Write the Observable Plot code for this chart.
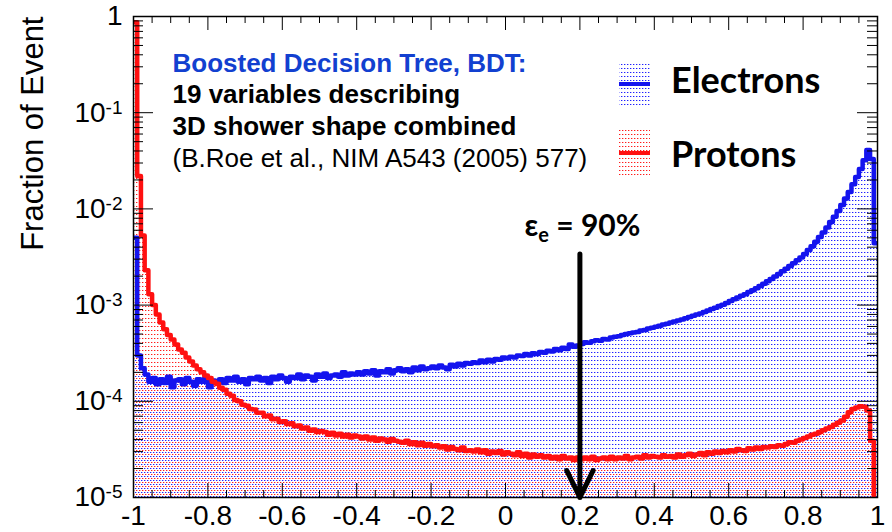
<!DOCTYPE html>
<html><head><meta charset="utf-8">
<script src="https://cdn.jsdelivr.net/npm/d3@7"></script>
<script src="https://cdn.jsdelivr.net/npm/@observablehq/plot@0.6"></script>
<style>
html,body{margin:0;padding:0;background:#fff;}
#chart{width:892px;height:532px;}
</style></head><body><div id="chart"></div>
<script>
// ---- data ----
const binStart = -1, binWidth = 0.01;   // 200 bins over [-1, 1]
const electrons = [
 5.0e-3,3.0e-4,2.2e-4,1.9e-4,1.6e-4,1.75e-4,1.5e-4,1.7e-4,1.55e-4,1.8e-4,
 1.4e-4,1.65e-4,1.7e-4,1.5e-4,1.75e-4,1.6e-4,1.45e-4,1.7e-4,1.6e-4,1.75e-4,
 1.4e-4,1.65e-4,1.6e-4,1.7e-4,1.55e-4,1.75e-4,1.65e-4,1.8e-4,1.6e-4,1.7e-4,
 1.5e-4,1.75e-4,1.7e-4,1.8e-4,1.65e-4,1.75e-4,1.55e-4,1.8e-4,1.7e-4,1.85e-4,
 1.75e-4,1.6e-4,1.8e-4,1.75e-4,1.9e-4,1.7e-4,1.85e-4,1.8e-4,1.65e-4,1.9e-4,
 1.8e-4,1.95e-4,1.75e-4,1.85e-4,1.9e-4,1.8e-4,2.0e-4,1.85e-4,1.95e-4,1.9e-4,
 2.0e-4,1.9e-4,2.05e-4,1.95e-4,2.1e-4,1.85e-4,2.05e-4,2.0e-4,2.15e-4,1.95e-4,
 2.1e-4,2.2e-4,2.05e-4,2.15e-4,2.0e-4,2.25e-4,2.1e-4,2.3e-4,2.15e-4,2.2e-4,
 2.3e-4,2.2e-4,2.35e-4,2.25e-4,2.15e-4,2.4e-4,2.3e-4,2.45e-4,2.35e-4,2.5e-4,
 2.45e-4,2.55e-4,2.5e-4,2.65e-4,2.55e-4,2.7e-4,2.6e-4,2.75e-4,2.7e-4,2.85e-4,
 2.8e-4,2.9e-4,2.85e-4,3.0e-4,2.95e-4,3.1e-4,3.0e-4,3.15e-4,3.1e-4,3.25e-4,
 3.2e-4,3.35e-4,3.3e-4,3.5e-4,3.4e-4,3.6e-4,3.5e-4,3.9e-4,3.7e-4,3.8e-4,
 3.95e-4,4.1e-4,4.05e-4,4.2e-4,4.3e-4,4.25e-4,4.45e-4,4.4e-4,4.6e-4,4.7e-4,
 4.75e-4,4.9e-4,5.0e-4,5.1e-4,5.2e-4,5.25e-4,5.45e-4,5.5e-4,5.7e-4,5.8e-4,
 5.95e-4,6.1e-4,6.3e-4,6.4e-4,6.6e-4,6.75e-4,6.9e-4,7.1e-4,7.3e-4,7.5e-4,
 7.75e-4,8.0e-4,8.2e-4,8.5e-4,8.8e-4,9.1e-4,9.4e-4,9.8e-4,1.01e-3,1.05e-3,
 1.1e-3,1.15e-3,1.2e-3,1.25e-3,1.3e-3,1.37e-3,1.43e-3,1.5e-3,1.58e-3,1.67e-3,
 1.77e-3,1.87e-3,1.98e-3,2.1e-3,2.25e-3,2.38e-3,2.55e-3,2.72e-3,2.92e-3,3.12e-3,
 3.4e-3,3.75e-3,4.1e-3,4.55e-3,5.1e-3,5.7e-3,6.4e-3,7.3e-3,8.3e-3,9.5e-3,
 1.1e-2,1.28e-2,1.5e-2,1.8e-2,2.15e-2,2.6e-2,3.2e-2,4.1e-2,3.3e-2,4.4e-3
];
const protons = [
 0.87,2.2e-2,5.3e-3,2.3e-3,1.3e-3,1.0e-3,8.0e-4,6.6e-4,5.6e-4,4.9e-4,
 4.4e-4,3.9e-4,3.45e-4,3.2e-4,2.85e-4,2.6e-4,2.35e-4,2.15e-4,2.0e-4,1.85e-4,
 1.75e-4,1.6e-4,1.52e-4,1.38e-4,1.32e-4,1.2e-4,1.14e-4,1.03e-4,1.0e-4,9.2e-5,
 9.0e-5,8.3e-5,8.2e-5,7.6e-5,7.6e-5,7.0e-5,7.1e-5,6.5e-5,6.6e-5,6.1e-5,
 6.2e-5,5.8e-5,5.9e-5,5.5e-5,5.6e-5,5.2e-5,5.35e-5,4.95e-5,5.1e-5,4.8e-5,
 4.9e-5,4.8e-5,4.5e-5,4.7e-5,4.4e-5,4.6e-5,4.3e-5,4.5e-5,4.2e-5,4.4e-5,
 4.3e-5,4.1e-5,4.3e-5,4.0e-5,4.2e-5,3.9e-5,4.1e-5,4.0e-5,3.8e-5,4.05e-5,
 3.9e-5,3.8e-5,3.7e-5,3.9e-5,3.6e-5,3.75e-5,3.5e-5,3.7e-5,3.45e-5,3.6e-5,
 3.4e-5,3.5e-5,3.3e-5,3.4e-5,3.15e-5,3.35e-5,3.2e-5,3.1e-5,3.3e-5,3.05e-5,
 3.1e-5,3.0e-5,3.15e-5,2.95e-5,3.1e-5,2.85e-5,3.0e-5,2.9e-5,3.05e-5,2.8e-5,
 2.95e-5,2.85e-5,2.75e-5,2.95e-5,2.7e-5,2.85e-5,2.6e-5,2.8e-5,2.65e-5,2.75e-5,
 2.6e-5,2.7e-5,2.55e-5,2.65e-5,2.5e-5,2.7e-5,2.55e-5,2.6e-5,2.45e-5,2.6e-5,
 2.5e-5,2.6e-5,2.5e-5,2.65e-5,2.45e-5,2.55e-5,2.6e-5,2.5e-5,2.65e-5,2.5e-5,
 2.6e-5,2.55e-5,2.7e-5,2.5e-5,2.6e-5,2.65e-5,2.55e-5,2.75e-5,2.6e-5,2.7e-5,
 2.65e-5,2.6e-5,2.75e-5,2.65e-5,2.7e-5,2.6e-5,2.8e-5,2.65e-5,2.75e-5,2.85e-5,
 2.7e-5,2.8e-5,2.9e-5,2.75e-5,2.95e-5,2.85e-5,3.0e-5,2.9e-5,3.05e-5,2.95e-5,
 3.1e-5,3.0e-5,3.2e-5,3.1e-5,3.05e-5,3.25e-5,3.15e-5,3.3e-5,3.2e-5,3.35e-5,
 3.3e-5,3.4e-5,3.35e-5,3.5e-5,3.45e-5,3.6e-5,3.75e-5,3.7e-5,3.9e-5,4.0e-5,
 4.15e-5,4.3e-5,4.5e-5,4.6e-5,4.8e-5,5.0e-5,5.2e-5,5.4e-5,5.7e-5,6.0e-5,
 6.3e-5,6.9e-5,7.7e-5,8.3e-5,8.6e-5,8.9e-5,8.8e-5,8.0e-5,3.9e-5,4.0e-6
];
const seriesNames = ["Electrons", "Protons"];
const xTicks = [-1,-0.8,-0.6,-0.4,-0.2,0,0.2,0.4,0.6,0.8,1];
const xTickLabels = ["-1","-0.8","-0.6","-0.4","-0.2","0","0.2","0.4","0.6","0.8","1"];
const yTicks = [1,1e-1,1e-2,1e-3,1e-4,1e-5];
const yTickBase = ["1","10","10","10","10","10"];
const yTickExp = ["","-1","-2","-3","-4","-5"];
const yTitle = "Fraction of Event";
const noteLines = ["Boosted Decision Tree, BDT:", "19 variables describing", "3D shower shape combined", "(B.Roe et al., NIM A543 (2005) 577)"];
const cutX = 0.2, cutTop = 3.4e-3;
const cutLabel = ["ε", "e", " = 90%"];

// ---- layout & styles ----
const W = 892, H = 532, mL = 133, mR = 15, mT = 16, mB = 35;
const fw = W - mL - mR, fh = H - mT - mB;
const BLUE = "#1414ee", RED = "#ff1010";
const SANS = "'Liberation Sans', Arial, Helvetica, sans-serif";
const LEG = "Lato, 'Open Sans', sans-serif";

function pts(vals) {
  const p = vals.map((v, i) => ({x: binStart + i * binWidth, v}));
  p.push({x: binStart + vals.length * binWidth, v: vals[vals.length - 1]});
  return p;
}
const ePts = pts(electrons), pPts = pts(protons);
const xMinor = d3.range(-1, 1.0001, 0.05).filter(v => !xTicks.some(t => Math.abs(t - v) < 1e-6));
const yMinor = [];
for (let e = -5; e < 0; e++) for (let m = 2; m <= 9; m++) yMinor.push(m * Math.pow(10, e));

const plot = Plot.plot({
  width: W, height: H, marginLeft: mL, marginRight: mR, marginTop: mT, marginBottom: mB,
  style: {fontFamily: SANS, background: "white", color: "black"},
  x: {domain: [-1, 1], label: null},
  y: {type: "log", domain: [1e-5, 1], label: null},
  marks: [
    Plot.areaY(ePts, {x: "x", y1: 1e-5, y2: "v", curve: "step-after", fill: "url(#dotsBlue)", clip: true}),
    Plot.areaY(pPts, {x: "x", y1: 1e-5, y2: "v", curve: "step-after", fill: "url(#dotsRed)", clip: true}),
    Plot.lineY(ePts, {x: "x", y: "v", curve: "step-after", stroke: BLUE, strokeWidth: 4.5, clip: true}),
    Plot.lineY(pPts, {x: "x", y: "v", curve: "step-after", stroke: RED, strokeWidth: 4.5, clip: true}),
    Plot.tickY(yTicks, {y: d => d, insetRight: fw - 20, stroke: "black"}),
    Plot.tickY(yTicks, {y: d => d, insetLeft: fw - 20, stroke: "black"}),
    Plot.tickY(yMinor, {y: d => d, insetRight: fw - 10, stroke: "black"}),
    Plot.tickY(yMinor, {y: d => d, insetLeft: fw - 10, stroke: "black"}),
    Plot.tickX(xTicks, {x: d => d, insetTop: fh - 14, stroke: "black"}),
    Plot.tickX(xTicks, {x: d => d, insetBottom: fh - 14, stroke: "black"}),
    Plot.tickX(xMinor, {x: d => d, insetTop: fh - 7, stroke: "black"}),
    Plot.tickX(xMinor, {x: d => d, insetBottom: fh - 7, stroke: "black"}),
    Plot.axisX(xTicks, {tickSize: 0, tickPadding: 8, fontSize: 28, label: null,
      tickFormat: d => xTickLabels[xTicks.indexOf(d)]}),
    Plot.axisY(yTicks, {tickSize: 0, tickPadding: 11, fontSize: 28, label: null,
      tickFormat: d => { const i = yTicks.indexOf(d); return yTickBase[i] + "|" + yTickExp[i]; }}),
    Plot.frame({stroke: "black", strokeWidth: 1.5}),
    Plot.arrow([{x1: cutX, y1: cutTop, x2: cutX, y2: 1e-5}],
      {x1: "x1", y1: "y1", x2: "x2", y2: "y2", stroke: "black", strokeWidth: 5, headLength: 9, headAngle: 52}),
    Plot.text([yTitle], {text: d => d, frameAnchor: "top-left", dx: -91, dy: 0, rotate: -90,
      textAnchor: "end", lineAnchor: "bottom", fontSize: 31, fill: "black"}),
    Plot.text([noteLines[0]], {text: d => d, frameAnchor: "top-left", dx: 39, dy: 55, textAnchor: "start",
      lineAnchor: "bottom", fontSize: 26, fontWeight: "bold", fill: "#1240d0"}),
    Plot.text([noteLines[1]], {text: d => d, frameAnchor: "top-left", dx: 39, dy: 86.5, textAnchor: "start",
      lineAnchor: "bottom", fontSize: 26, fontWeight: "bold", fill: "black"}),
    Plot.text([noteLines[2]], {text: d => d, frameAnchor: "top-left", dx: 39, dy: 118.5, textAnchor: "start",
      lineAnchor: "bottom", fontSize: 26, fontWeight: "bold", fill: "black"}),
    Plot.text([noteLines[3]], {text: d => d, frameAnchor: "top-left", dx: 39, dy: 150.5, textAnchor: "start",
      lineAnchor: "bottom", fontSize: 26, fill: "black"})
  ]
});

const svg = d3.select(plot);
// dotted fill patterns (ROOT-like fill style)
const defs = svg.insert("defs", ":first-child");
function dotPattern(id, color, ox, oy) {
  const p = defs.append("pattern").attr("id", id).attr("patternUnits", "userSpaceOnUse")
    .attr("width", 3).attr("height", 4);
  p.append("rect").attr("x", ox).attr("y", oy).attr("width", 1).attr("height", 1).attr("fill", color);
  p.append("rect").attr("x", ox + 1).attr("y", oy).attr("width", 1).attr("height", 1).attr("fill", color).attr("fill-opacity", 0.35);
}
dotPattern("dotsBlue", "#2020ff", 0, 0);
dotPattern("dotsRed", "#ff1c1c", 1, 2);

// superscript exponents on y tick labels
svg.selectAll('g[aria-label="y-axis tick label"] text').each(function () {
  const [b, e] = this.textContent.split("|");
  const t = d3.select(this);
  t.text(b);
  if (e) t.append("tspan").attr("dy", "-0.42em").attr("font-size", "0.68em").text(e);
});

// efficiency label above the arrow
const xs = plot.scale("x"), ys = plot.scale("y");
const ax = xs.apply(cutX), ay = ys.apply(cutTop);
const lab = svg.append("text").attr("x", ax + 3).attr("y", ay - 17).attr("text-anchor", "middle")
  .attr("font-family", LEG).attr("font-weight", 700).attr("font-size", 30).attr("fill", "black");
lab.append("tspan").text(cutLabel[0]);
lab.append("tspan").attr("font-size", 20).attr("dy", 6).text(cutLabel[1]);
lab.append("tspan").attr("dy", -6).text(cutLabel[2]);

// legend
const legendItems = [
  {name: seriesNames[0], color: BLUE, pat: "dotsBlue", boxTop: 62, lineY: 84, base: 93},
  {name: seriesNames[1], color: RED, pat: "dotsRed", boxTop: 130, lineY: 153, base: 167}
];
const lg = svg.append("g").attr("aria-label", "legend").attr("text-anchor", "start");
for (const it of legendItems) {
  lg.append("rect").attr("x", 619).attr("y", it.boxTop).attr("width", 31).attr("height", 45).attr("fill", `url(#${it.pat})`);
  lg.append("line").attr("x1", 619).attr("x2", 650).attr("y1", it.lineY).attr("y2", it.lineY)
    .attr("stroke", it.color).attr("stroke-width", 4);
  lg.append("text").attr("x", 671).attr("y", it.base).attr("text-anchor", "start").attr("font-family", LEG).attr("font-weight", 700)
    .attr("font-size", 36).attr("fill", "black").text(it.name);
}

document.getElementById("chart").appendChild(plot);
</script>
</body></html>
